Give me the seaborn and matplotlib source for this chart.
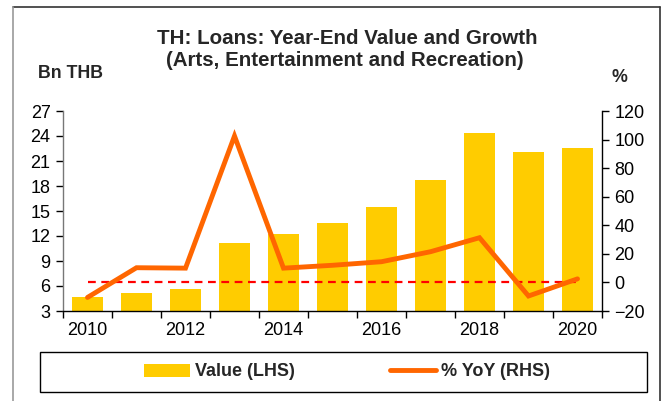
import numpy as np
import pandas as pd
import matplotlib
matplotlib.use("Agg")
import matplotlib.pyplot as plt
from matplotlib.lines import Line2D
from matplotlib.patches import Patch, Rectangle
from matplotlib.ticker import FixedLocator
import seaborn as sns

# Year-end loan values (Bn THB) and year-on-year growth (%)
years = [2010, 2011, 2012, 2013, 2014, 2015, 2016, 2017, 2018, 2019, 2020]
value_bn_thb = [4.7, 5.2, 5.6, 11.2, 12.3, 13.6, 15.5, 18.7, 24.4, 22.1, 22.6]
yoy_pct = [-10.5, 10.3, 10.0, 102.5, 10.0, 12.0, 14.5, 21.5, 31.3, -9.5, 2.5]
zero_line = [0] * len(years)

left_ticks = [3, 6, 9, 12, 15, 18, 21, 24, 27]
right_ticks = [-20, 0, 20, 40, 60, 80, 100, 120]
year_labels = [2010, 2012, 2014, 2016, 2018, 2020]

title_lines = ["TH: Loans: Year-End Value and Growth",
               "(Arts, Entertainment and Recreation)"]

BAR = "#FFCC00"
LINE = "#FF6600"
DASH = "#FF0000"

sns.set_theme(style="white")
plt.rcParams["font.family"] = ["Liberation Sans", "DejaVu Sans"]

df = pd.DataFrame({"year": years, "value": value_bn_thb,
                   "yoy": yoy_pct, "zero": zero_line})

W, H = 667, 401
fig = plt.figure(figsize=(W / 100, H / 100), dpi=100)
fig.patch.set_facecolor("white")

def fx(px):
    return px / W

def fy(py):
    return 1 - py / H

ax = fig.add_axes([fx(63), fy(311), fx(602) - fx(63), fy(111) - fy(311)])

sns.barplot(data=df, x="year", y="value", native_scale=True, color=BAR,
            width=0.62, saturation=1, ax=ax, edgecolor="none")

ax.set_xlim(2009.5, 2020.5)
ax.set_ylim(3, 27)
ax.yaxis.set_major_locator(FixedLocator(left_ticks))
ax.xaxis.set_major_locator(FixedLocator(year_labels))
ax.xaxis.set_minor_locator(FixedLocator(np.arange(2009.5, 2021, 1.0)))
ax.set_xticklabels([str(y) for y in year_labels])
ax.set_xlabel("")
ax.set_ylabel("")
ax.tick_params(axis="x", which="major", length=0, labelsize=13, pad=8,
               colors="black")
ax.tick_params(axis="x", which="minor", length=5, width=1, color="black",
               direction="out", bottom=True)
ax.tick_params(axis="y", length=5, width=1, color="black", direction="out",
               labelsize=13, pad=4, left=True, labelcolor="black")
for side in ["top", "right"]:
    ax.spines[side].set_visible(False)
ax.spines["left"].set_color("#777777")
ax.spines["bottom"].set_color("black")
ax.spines["left"].set_linewidth(1)
ax.spines["bottom"].set_linewidth(1)

ax2 = ax.twinx()
sns.lineplot(data=df, x="year", y="zero", ax=ax2, color=DASH, lw=1.6,
             linestyle=(0, (3.5, 2.5)))
sns.lineplot(data=df, x="year", y="yoy", ax=ax2, color=LINE, lw=3.5,
             solid_capstyle="round", solid_joinstyle="miter")
ax2.set_ylim(-20, 120)
ax2.yaxis.set_major_locator(FixedLocator(right_ticks))
ax2.set_xlim(2009.5, 2020.5)
ax2.set_ylabel("")
ax2.set_xlabel("")
ax2.tick_params(axis="y", length=5, width=1, color="black", direction="out",
                labelsize=13, pad=4, right=True, labelcolor="black")
for side in ["top", "left", "bottom"]:
    ax2.spines[side].set_visible(False)
ax2.spines["right"].set_color("black")
ax2.spines["right"].set_linewidth(1)
ax2.grid(False)
ax.grid(False)

# Titles and axis unit labels
fig.text(fx(347), fy(39), title_lines[0], ha="center", va="center",
         fontsize=14.8, fontweight="bold")
fig.text(fx(345), fy(61), title_lines[1], ha="center", va="center",
         fontsize=14.8, fontweight="bold")
fig.text(fx(38), fy(74), "Bn THB", ha="left", va="center",
         fontsize=12.8, fontweight="bold")
fig.text(fx(619), fy(77), "%", ha="center", va="center",
         fontsize=12.8, fontweight="bold")

# Outer frame (open at the bottom)
fig.add_artist(Line2D([fx(13), fx(660)], [fy(7), fy(7)], color="#333333",
                      lw=1.2, transform=fig.transFigure))
fig.add_artist(Line2D([fx(13), fx(13)], [fy(7), fy(401)], color="#999999",
                      lw=1.2, transform=fig.transFigure))
fig.add_artist(Line2D([fx(660), fx(660)], [fy(7), fy(401)], color="#333333",
                      lw=1.2, transform=fig.transFigure))

# Legend box
fig.add_artist(Rectangle((fx(40), fy(392)), fx(647) - fx(40),
                         fy(352) - fy(392), transform=fig.transFigure,
                         facecolor="white", edgecolor="black", lw=1))
handles = [Patch(facecolor=BAR, edgecolor="none", label="Value (LHS)"),
           Line2D([0], [0], color=LINE, lw=3.5, solid_capstyle="round",
                  label="% YoY (RHS)")]
fig.legend(handles=handles, loc="center", bbox_to_anchor=(fx(347), fy(372)),
           ncol=2, frameon=False, prop={"weight": "bold", "size": 13},
           handlelength=2.55, handleheight=0.75, handletextpad=0.25,
           columnspacing=5.3)

fig.savefig("out.png", dpi=100)
